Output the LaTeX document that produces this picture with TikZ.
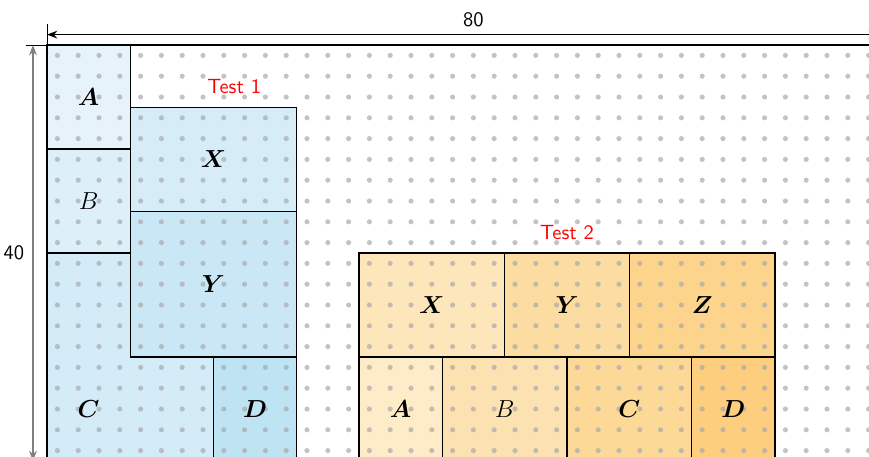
\documentclass[tikz,border=0pt]{standalone}
\usepackage{amsmath,amssymb,xcolor}
\definecolor{oneA}{RGB}{230,243,250}
\definecolor{oneB}{RGB}{221,239,248}
\definecolor{oneC}{RGB}{211,236,247}
\definecolor{oneX}{RGB}{214,236,247}
\definecolor{oneY}{RGB}{201,231,244}
\definecolor{oneD}{RGB}{190,227,242}
\definecolor{twoA}{RGB}{254,235,200}
\definecolor{twoX}{RGB}{254,230,187}
\definecolor{twoB}{RGB}{253,226,177}
\definecolor{twoY}{RGB}{253,220,161}
\definecolor{twoC}{RGB}{253,217,152}
\definecolor{twoZ}{RGB}{253,212,140}
\definecolor{twoD}{RGB}{253,206,126}
\definecolor{dotgray}{RGB}{170,170,170}
\usetikzlibrary{arrows.meta}

\begin{document}
\begin{tikzpicture}[
  x=0.178cm,y=0.178cm,
  blk/.style={draw=black,line width=0.6pt},
  lbl/.style={font=\large},
  tst/.style={font=\sffamily,red},
  dimlbl/.style={font=\sffamily},
  gdot/.style={fill=dotgray,fill opacity=0.7}
]
  \useasboundingbox (-4.52,0.48) rectangle (79.04,44.33);
  % Test 1 blocks
  \filldraw[blk,fill=oneA] (0,30) rectangle (8,40);
  \filldraw[blk,fill=oneB] (0,20) rectangle (8,30);
  \filldraw[blk,fill=oneC] (0,0) -- (16,0) -- (16,10) -- (8,10) -- (8,20) -- (0,20) -- cycle;
  \filldraw[blk,fill=oneX] (8,24) rectangle (24,34);
  \filldraw[blk,fill=oneY] (8,10) rectangle (24,24);
  \filldraw[blk,fill=oneD] (16,0) rectangle (24,10);
  % Test 2 blocks
  \filldraw[blk,fill=twoX] (30,10) rectangle (44,20);
  \filldraw[blk,fill=twoY] (44,10) rectangle (56,20);
  \filldraw[blk,fill=twoZ] (56,10) rectangle (70,20);
  \filldraw[blk,fill=twoA] (30,0) rectangle (38,10);
  \filldraw[blk,fill=twoB] (38,0) rectangle (50,10);
  \filldraw[blk,fill=twoC] (50,0) rectangle (62,10);
  \filldraw[blk,fill=twoD] (62,0) rectangle (70,10);
  % dot grid
  \foreach \i in {0,...,39}
    \foreach \j in {0,...,19}
      \fill[gdot] (2*\i+1,2*\j+1) circle[radius=1.25pt];
  % frame
  \draw[line width=1.2pt] (0,0) rectangle (80,40);
  % labels
  \node[lbl] (oneAl) at (4,35) {$\boldsymbol{A}$};
  \node[lbl] (oneBl) at (4,25) {$B$};
  \node[lbl] (oneCl) at (4,5) {$\boldsymbol{C}$};
  \node[lbl] (oneXl) at (16,29) {$\boldsymbol{X}$};
  \node[lbl] (oneYl) at (16,17) {$\boldsymbol{Y}$};
  \node[lbl] (oneDl) at (20,5) {$\boldsymbol{D}$};
  \node[lbl] (twoXl) at (37,15) {$\boldsymbol{X}$};
  \node[lbl] (twoYl) at (50,15) {$\boldsymbol{Y}$};
  \node[lbl] (twoZl) at (63,15) {$\boldsymbol{Z}$};
  \node[lbl] (twoAl) at (34,5) {$\boldsymbol{A}$};
  \node[lbl] (twoBl) at (44,5) {$B$};
  \node[lbl] (twoCl) at (56,5) {$\boldsymbol{C}$};
  \node[lbl] (twoDl) at (66,5) {$\boldsymbol{D}$};
  \node[tst] (test1) at (18,36) {Test 1};
  \node[tst] (test2) at (50,22) {Test 2};
  % dimensions
  \coordinate (wL) at (0,41);
  \coordinate (wR) at (80,41);
  \coordinate (wT) at (0,42);
  \coordinate (hT) at (-1.35,40);
  \coordinate (hB) at (-1.35,0);
  \coordinate (hE) at (-2,40);
  \draw (0,40) -- (wT);
  \draw (hE) -- (0,40);
  \draw[line width=0.8pt,{Stealth[length=5pt]}-{Stealth[length=5pt]}] (wL) -- (wR);
  \draw[gray,line width=0.8pt,{Stealth[length=5pt]}-{Stealth[length=5pt]}] (hT) -- (hB);
  \node[dimlbl] (wlbl) at (41,42.4) {80};
  \node[dimlbl,left] (hlbl) at (-1.5,20) {40};
\end{tikzpicture}
\end{document}
